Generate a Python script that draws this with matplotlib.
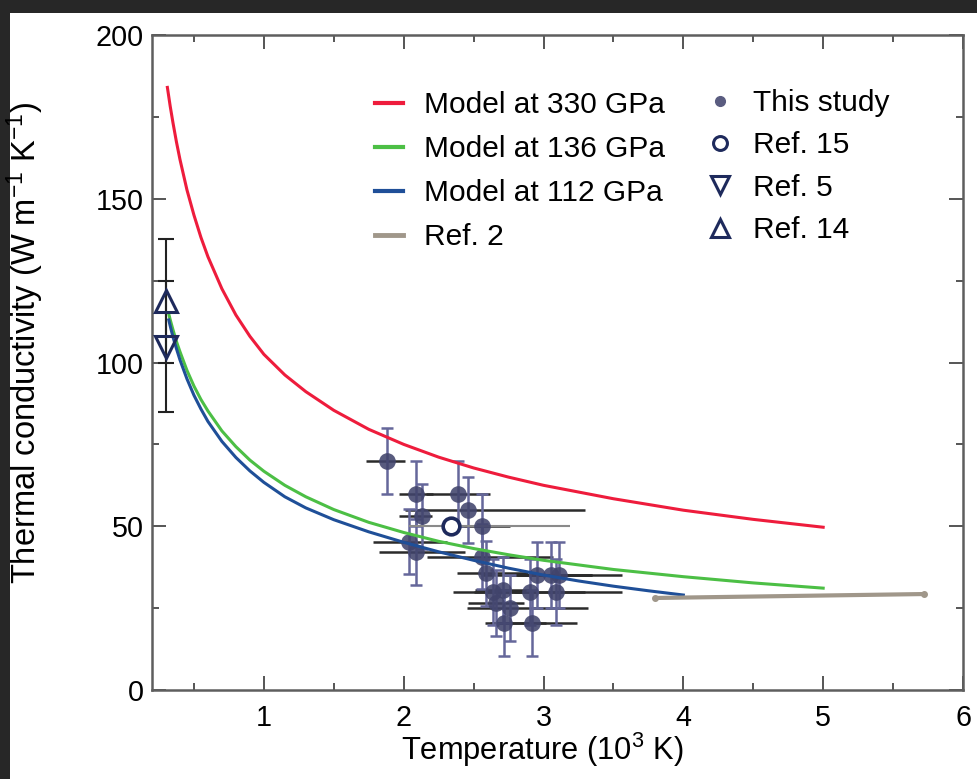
import matplotlib
matplotlib.use("Agg")
import matplotlib.pyplot as plt
from matplotlib.lines import Line2D
from matplotlib.patches import Rectangle
from matplotlib.ticker import MultipleLocator

plt.rcParams["font.family"] = ["Liberation Sans", "DejaVu Sans"]
plt.rcParams["mathtext.default"] = "regular"

# model curves (T in 10^3 K, k in W m-1 K-1)
t_330 = [0.31, 0.33, 0.35, 0.375, 0.4, 0.45, 0.5, 0.55, 0.6, 0.7, 0.8, 0.9, 1.0,
         1.15, 1.3, 1.5, 1.75, 2.0, 2.25, 2.5, 2.75, 3.0, 3.5, 4.0, 4.5, 5.0]
k_330 = [184, 178.3, 173.2, 167.3, 162, 152.7, 145, 138.2, 132.3, 122.5, 114.5, 108, 102.5,
         96.2, 91.1, 85.4, 79.6, 75, 71.1, 67.8, 65, 62.5, 58.4, 54.9, 52.1, 49.7]

t_136 = [0.32, 0.33, 0.35, 0.375, 0.4, 0.45, 0.5, 0.55, 0.6, 0.7, 0.8, 0.9, 1.0,
         1.15, 1.3, 1.5, 1.75, 2.0, 2.25, 2.5, 2.75, 3.0, 3.5, 4.0, 4.5, 5.0]
k_136 = [114.8, 113.1, 110, 106.4, 103.3, 97.6, 92.8, 88.7, 85.2, 79.1, 74.3, 70.2, 66.8,
         62.5, 59, 55.1, 51.2, 48.1, 45.4, 43.2, 41.3, 39.6, 36.8, 34.6, 32.7, 31.1]

t_112 = [0.32, 0.33, 0.35, 0.375, 0.4, 0.45, 0.5, 0.55, 0.6, 0.7, 0.8, 0.9, 1.0,
         1.15, 1.3, 1.5, 1.75, 2.0, 2.25, 2.5, 2.75, 3.0, 3.25, 3.5, 3.75, 4.0]
k_112 = [113, 111.2, 107.8, 104.2, 100.8, 95, 90, 85.8, 82, 75.9, 71, 66.9, 63.4,
         59, 55.6, 52, 48.3, 45.1, 42.2, 39.6, 37.2, 35.1, 33.3, 31.7, 30.3, 29]

t_ref2 = [3.8, 5.72]
k_ref2 = [28.1, 29.3]

# this study
study_t = [1.88, 2.09, 2.13, 2.39, 2.46, 2.56, 2.04, 2.09, 2.56, 2.59, 2.64,
           2.71, 2.76, 2.72, 2.90, 2.95, 3.05, 3.09, 3.11, 2.92, 2.66]
study_k = [70.0, 60.0, 53.0, 60.0, 55.0, 50.0, 45.3, 42.2, 40.7, 35.6, 30.0,
           30.5, 25.0, 20.4, 30.0, 35.1, 35.1, 30.0, 35.1, 20.4, 26.5]
study_t_lo = [0.15, 0.12, 0.16, 0.23, 0.45, 0.2, 0.26, 0.27, 0.39, 0.21, 0.29,
              0.2, 0.31, 0.14, 0.40, 0.40, 0.3, 0.3, 0.3, 0.30, 0.2]
study_t_hi = [0.13, 0.12, 0.07, 0.23, 0.84, 0.2, 0.27, 0.35, 0.51, 0.30, 0.30,
              0.2, 0.56, 0.30, 0.40, 0.40, 0.3, 0.47, 0.45, 0.32, 0.2]
study_k_err = [10] * 21

# other references
ref15_t, ref15_k, ref15_t_lo, ref15_t_hi = 2.34, 50.0, 0.30, 0.85
ref5_t, ref5_k, ref5_err = 0.30, 104.8, 20
ref14_t, ref14_k, ref14_err = 0.30, 118.8, 19

fig = plt.figure(figsize=(9.78, 7.79), dpi=100)
fig.patch.set_facecolor("#272727")
fig.patches.append(Rectangle((10 / 978, 0), 1, 1 - 13 / 779, transform=fig.transFigure,
                             facecolor="white", edgecolor="none", zorder=-10))

ax = fig.add_axes([152 / 978, 1 - 690 / 779, 811 / 978, 655 / 779])
ax.patch.set_alpha(0)

navy = "#1e2a5c"
dot = "#41446c"

ax.errorbar(study_t, study_k, xerr=[study_t_lo, study_t_hi], fmt="none",
            ecolor="#2b2b2b", elinewidth=1.8, capsize=0, zorder=3)
ax.errorbar(study_t, study_k, yerr=study_k_err, fmt="none",
            ecolor="#65679a", elinewidth=1.8, capsize=4.5, capthick=1.8, zorder=3)
ax.plot(study_t, study_k, "o", color=dot, markersize=12, alpha=0.88,
        markeredgewidth=0, zorder=4)

ax.errorbar([ref15_t], [ref15_k], xerr=[[ref15_t_lo], [ref15_t_hi]], fmt="none",
            ecolor="#8a8a8a", elinewidth=1.5, capsize=0, zorder=3)
ax.plot([ref15_t], [ref15_k], "o", mfc="white", mec=navy, mew=2.6, markersize=12, zorder=6)

ax.errorbar([ref5_t, ref14_t], [ref5_k, ref14_k], yerr=[ref5_err, ref14_err], fmt="none",
            ecolor="#222222", elinewidth=1.5, capsize=5.5, capthick=1.5, zorder=3)

ax.plot(t_330, k_330, color="#ee1c3c", lw=2.2, solid_joinstyle="round", zorder=5)
ax.plot(t_136, k_136, color="#4cbf45", lw=2.2, solid_joinstyle="round", zorder=5)
ax.plot(t_112, k_112, color="#1f4f98", lw=2.2, solid_joinstyle="round", zorder=5)
ax.plot(t_ref2, k_ref2, color="#a0978a", lw=3, marker="o", markersize=4,
        solid_capstyle="round", zorder=5)

ax.plot([ref5_t], [ref5_k], "v", mfc="none", mec=navy, mew=2.2, markersize=15.5, zorder=6)
ax.plot([ref14_t], [ref14_k], "^", mfc="none", mec=navy, mew=2.2, markersize=15.5, zorder=6)

ax.set_xlim(0.2, 6)
ax.set_ylim(0, 200)
ax.xaxis.set_major_locator(MultipleLocator(1))
ax.xaxis.set_minor_locator(MultipleLocator(0.5))
ax.yaxis.set_major_locator(MultipleLocator(50))
ax.yaxis.set_minor_locator(MultipleLocator(25))
ax.tick_params(which="both", direction="in", top=True, right=True,
               color="#555555", width=1.4, labelsize=20.7)
ax.tick_params(which="major", length=10)
ax.tick_params(which="minor", length=5)
ax.tick_params(axis="x", pad=10)
ax.tick_params(axis="y", pad=6)
for s in ax.spines.values():
    s.set_color("#5e5e5e")
    s.set_linewidth(1.8)

ax.set_xlabel("Temperature (10$^{3}$ K)", fontsize=22.2)
ax.set_ylabel("Thermal conductivity (W m$^{-1}$ K$^{-1}$)", fontsize=23.5)
ax.xaxis.set_label_coords(0.481, -0.062)
ax.yaxis.set_label_coords(-0.131, 0.53)

line_handles = [
    Line2D([], [], color="#ee1c3c", lw=3),
    Line2D([], [], color="#4cbf45", lw=3),
    Line2D([], [], color="#1f4f98", lw=3),
    Line2D([], [], color="#a0978a", lw=3.5),
]
line_labels = ["Model at 330 GPa", "Model at 136 GPa", "Model at 112 GPa", "Ref. 2"]
leg1 = ax.legend(line_handles, line_labels, loc="upper left",
                 bbox_to_anchor=(375 / 978, 1 - 91 / 779), bbox_transform=fig.transFigure,
                 frameon=False, fontsize=21.5, handlelength=0.95, handletextpad=0.7,
                 labelspacing=0.54, borderpad=0, borderaxespad=0)
ax.add_artist(leg1)

mark_handles = [
    Line2D([], [], ls="none", marker="o", color="#5a5c80", markersize=7),
    Line2D([], [], ls="none", marker="o", mfc="white", mec=navy, mew=2.2, markersize=10),
    Line2D([], [], ls="none", marker="v", mfc="white", mec=navy, mew=2.2, markersize=13),
    Line2D([], [], ls="none", marker="^", mfc="white", mec=navy, mew=2.2, markersize=13),
]
mark_labels = ["This study", "Ref. 15", "Ref. 5", "Ref. 14"]
ax.legend(mark_handles, mark_labels, loc="upper left",
          bbox_to_anchor=(705 / 978, 1 - 89 / 779), bbox_transform=fig.transFigure,
          frameon=False, fontsize=21.5, handlelength=1.0, handletextpad=0.6,
          labelspacing=0.48, borderpad=0, borderaxespad=0)

fig.savefig("out.png", dpi=100, facecolor=fig.get_facecolor())
